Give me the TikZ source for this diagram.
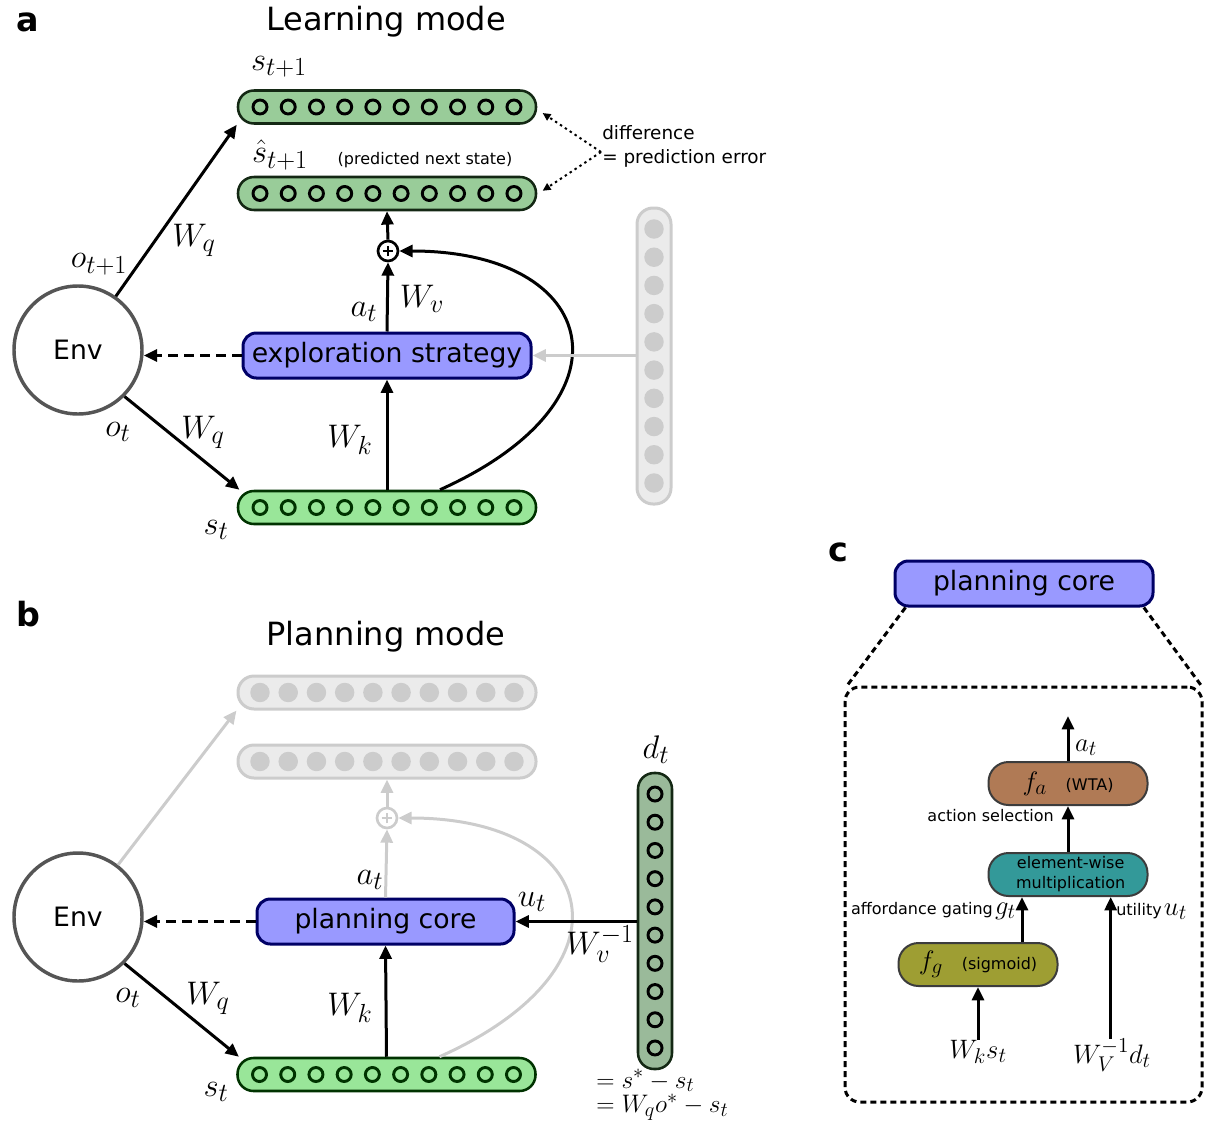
\RequirePackage{fix-cm}
\documentclass[tikz,border=0pt]{standalone}
\usepackage[no-math]{fontspec}
\setmainfont{DejaVu Sans}
\usetikzlibrary{arrows.meta,calc}
\DeclareMathSizes{24.5}{24.5}{19.6}{15}
\DeclareMathSizes{20}{20}{16}{12.8}
\DeclareMathSizes{19}{19}{15.2}{12}
\definecolor{gA}{RGB}{153,204,153}
\definecolor{gB}{RGB}{153,230,153}
\definecolor{gD}{RGB}{154,186,154}
\definecolor{pblue}{RGB}{153,153,255}
\definecolor{navy}{RGB}{0,0,102}
\definecolor{lgray}{RGB}{204,204,204}
\definecolor{llgray}{RGB}{235,235,235}
\definecolor{envgray}{RGB}{85,85,85}
\definecolor{brownc}{RGB}{176,122,85}
\definecolor{tealc}{RGB}{51,153,153}
\definecolor{olivec}{RGB}{158,158,51}
\definecolor{cbord}{RGB}{60,60,60}
\definecolor{dgreen}{RGB}{0,51,0}
\definecolor{dkb}{RGB}{20,40,20}
\newcommand\hlayer[5]{%
 \node[draw, line width=1.9pt, rounded corners=12pt, minimum width=223.5pt, minimum height=24.75pt, inner sep=0pt, #4] (#1) at (#2,#3) {};
 \foreach \k in {0,...,9}{\draw[line width=2.2pt, radius=5.25pt, #5] ({#2-127+28.22*\k},#3) circle;}
}
\newcommand\vlayer[5]{%
 \node[draw, line width=1.9pt, rounded corners=12pt, minimum width=25.5pt, minimum height=222pt, inner sep=0pt, #4] (#1) at (#2,#3) {};
 \foreach \k in {0,...,9}{\draw[line width=2.2pt, radius=5.25pt, #5] (#2,{#3-127+28.22*\k}) circle;}
}
\newcommand\mfs{\fontsize{24.5}{28}\selectfont}
\newcommand\mfc{\fontsize{20}{24}\selectfont}
\newcommand\sfs{\fontsize{12}{15}\selectfont}
\begin{document}
\begin{tikzpicture}[x=0.75pt,y=-0.75pt,
 arr/.style={line width=2.25pt, -{Triangle[length=10pt,width=9pt]}},
 garr/.style={arr, draw=lgray},
 dasharr/.style={arr, dash pattern=on 7.5pt off 4.5pt},
 dotarr/.style={line width=1.5pt, dash pattern=on 1.8pt off 2.6pt, -{Triangle[length=6pt,width=5.5pt]}},
 mlab/.style={font=\mfs, inner sep=0pt},
 mlabc/.style={font=\mfc, inner sep=0pt},
 btxt/.style={font=\fontsize{20}{24}\selectfont},
 stxt/.style={font=\sfs, inner sep=0pt},
 plet/.style={font=\bfseries\fontsize{25}{30}\selectfont},
 ttl/.style={font=\fontsize{24}{29}\selectfont},
 boxa/.style={draw=navy, fill=pblue, line width=2.25pt, rounded corners=10pt, minimum height=33.75pt, btxt, inner sep=0pt},
 cbox/.style={draw=cbord, line width=1.5pt, rounded corners=15pt, minimum width=119.25pt, minimum height=32.25pt, inner sep=0pt},
 envs/.style={draw=envgray, line width=2.6pt, circle, minimum size=96pt, btxt},
 pluss/.style={circle, draw, line width=2pt, minimum size=15pt, inner sep=0pt},
 graylayer/.style={fill=llgray, draw=lgray, line width=2.25pt},
 graydot/.style={fill=lgray, draw=none, radius=7.3pt}
]
\useasboundingbox (0,0) rectangle (1205,1120);

% ---------------- panel a ----------------
\node[plet] (la) at (28,22) {a};
\node[ttl] (ta) at (386,22) {Learning mode};
\node[envs] (env1) at (78,350) {Env};
\hlayer{s1}{387}{107}{fill=gA, draw=dkb}{draw=black}
\hlayer{s2}{387}{193.5}{fill=gA, draw=dkb}{draw=black}
\hlayer{st1}{387}{507.5}{fill=gB, draw=dgreen}{draw=dgreen}
\vlayer{gv}{654}{356}{graylayer}{graydot}
\node[pluss] (p1) at (388,251) {};
\draw[line width=1.6pt] ([xshift=-4pt]p1.center) -- ([xshift=4pt]p1.center) ([yshift=-4pt]p1.center) -- ([yshift=4pt]p1.center);
\node[boxa, minimum width=216pt] (ex) at (387,355.5) {exploration strategy};

\draw[arr] (env1) -- (s1.south west);
\draw[arr] (env1.-45) -- ([xshift=2pt]st1.north west);
\draw[dasharr] (ex.west) -- (ex.west -| env1.east);
\draw[arr] (ex.north) -- (p1.south);
\draw[arr] (p1.north) -- (s2.south);
\draw[arr] (st1.north) -- (ex.south);
\draw[arr] ([xshift=39.75pt]st1.north) .. controls (640,400) and (600,251) .. (p1.east);
\draw[garr] (gv.west |- ex.east) -- (ex.east);

\coordinate (dq) at (601,152);
\draw[dotarr] (dq) -- ([shift={(4pt,-4.5pt)}]s1.east);
\draw[dotarr] (dq) -- ([shift={(4pt,2pt)}]s2.east);
\node[anchor=west, align=left, font=\fontsize{13.8}{18}\selectfont, inner sep=0pt] (dtext) at (602,146) {difference\\= prediction error};

\node[mlab] (ls1) at (279,67) {$s_{t+1}$};
\node[mlab] (ls2) at (280,155) {$\hat{s}_{t+1}$};
\node[stxt] (pns) at (425,160) {(predicted next state)};
\node[mlab] (wq1) at (194,240) {$W_q$};
\node[mlab] (ot1) at (99,264) {$o_{t+1}$};
\node[mlab] (at1) at (364,312) {$a_t$};
\node[mlab] (wv1) at (422,299) {$W_v$};
\node[mlab] (wk1) at (350,440) {$W_k$};
\node[mlab] (ot2) at (118,432) {$o_t$};
\node[mlab] (wq2) at (203,432) {$W_q$};
\node[mlab] (lst1) at (216,530) {$s_t$};

% ---------------- panel b ----------------
\node[plet] (lb) at (28,614) {b};
\node[ttl] (tb) at (386,637) {Planning mode};
\node[envs] (env2) at (78,917) {Env};
\hlayer{g1}{387}{692.5}{graylayer}{graydot}
\hlayer{g2}{387}{761.5}{graylayer}{graydot}
\node[pluss, draw=lgray] (p2) at (387,818) {};
\draw[line width=1.6pt, lgray] ([xshift=-4pt]p2.center) -- ([xshift=4pt]p2.center) ([yshift=-4pt]p2.center) -- ([yshift=4pt]p2.center);
\node[boxa, minimum width=192.75pt] (pc) at (385.5,921.5) {planning core};
\hlayer{st2}{386.5}{1074.5}{fill=gB, draw=dgreen}{draw=dgreen}
\vlayer{dt}{655}{921}{fill=gD, draw=dkb}{draw=black}

\draw[garr] (env2) -- (g1.south west);
\draw[garr] (pc.north) -- (p2.south);
\draw[garr] (p2.north) -- (g2.south);
\draw[garr] ([xshift=39.75pt]st2.north) .. controls (640,967) and (600,818) .. (p2.east);
\draw[arr] (env2.-45) -- ([xshift=2pt]st2.north west);
\draw[dasharr] (pc.west) -- (pc.west -| env2.east);
\draw[arr] (st2.north) -- (pc.south);
\draw[arr] (dt.west |- pc.east) -- (pc.east);

\node[mlab] (at2) at (370,880) {$a_t$};
\node[mlab] (ut2) at (532,902) {$u_t$};
\node[mlab] (wvi) at (600,944) {$W_v^{-1}$};
\node[mlab] (ldt) at (656,750) {$d_t$};
\node[mlab] (wk2) at (350,1008) {$W_k$};
\node[mlab] (ot3) at (128,998) {$o_t$};
\node[mlab] (wq3) at (208,998) {$W_q$};
\node[mlab] (lst2) at (216,1092) {$s_t$};
\node[anchor=west, align=left, inner sep=0pt, font=\fontsize{19}{18.5}\selectfont] (deq) at (596,1095) {$= s^* - s_t$\\$= W_q o^* - s_t$};

% ---------------- panel c ----------------
\node[plet] (lc) at (838,552) {c};
\node[boxa, minimum width=193.5pt] (pcc) at (1024,583.5) {planning core};
\node[draw, line width=2.25pt, dash pattern=on 4.5pt off 3pt, rounded corners=11pt, minimum width=267.75pt, minimum height=311.25pt, inner sep=0pt] (dbox) at (1023.5,894.5) {};
\draw[line width=2.25pt, dash pattern=on 4.5pt off 3pt] ([xshift=9pt]pcc.south west) -- ([shift={(2pt,-1pt)}]dbox.north west);
\draw[line width=2.25pt, dash pattern=on 4.5pt off 3pt] ([xshift=-8pt]pcc.south east) -- ([shift={(-1pt,-1pt)}]dbox.north east);

\node[cbox, fill=brownc] (fa) at (1068,783.5) {{\mfc$f_a$}\hspace{14pt}{\sfs(WTA)}};
\node[cbox, fill=tealc, align=center, font=\sfs] (ew) at (1068,874.5) {\hspace{4pt}element-wise\\\hspace{4pt}multiplication};
\node[cbox, fill=olivec] (fg) at (978,964.5) {{\mfc$f_g$}\hspace{14pt}{\sfs(sigmoid)}};

\coordinate (atop) at (1068,716);
\draw[arr] (fa.north) -- (atop);
\node[mlabc] (at3) at (1086,748) {$a_t$};
\draw[arr] (ew.north) -- (fa.south);
\node[stxt, anchor=east] (asel) at (1054,816) {action selection};
\draw[arr] ([xshift=33pt]fg.north) -- ([xshift=33pt]fg.north |- ew.south);
\node[anchor=east, inner sep=0pt] (agt) at (1016,911) {{\sfs affordance gating}\,{\mfc$g_t$}};
\node[mlabc] (wks) at (978,1052) {$W_k s_t$};
\draw[arr] (wks.north) -- (fg.south);
\node[mlabc] (wvd) at (1112,1055) {$W_V^{-1} d_t$};
\draw[arr] ([xshift=-1pt]wvd.north) -- ([xshift=-1pt]wvd.north |- ew.south);
\node[anchor=west, inner sep=0pt] (utl) at (1116,911) {{\sfs utility}\,{\mfc$u_t$}};
\end{tikzpicture}
\end{document}
